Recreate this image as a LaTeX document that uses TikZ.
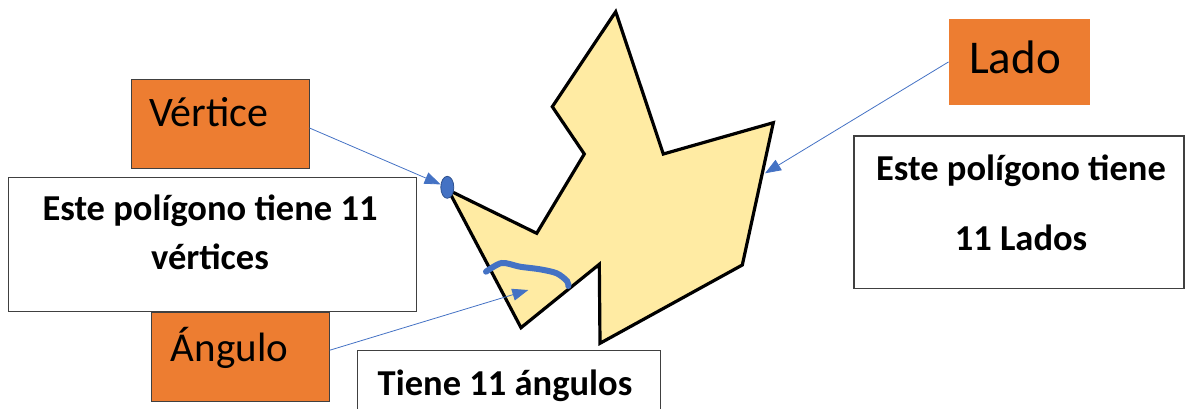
\documentclass[tikz,border=0pt]{standalone}
\usepackage{fontspec}
\setmainfont{Carlito}
\usetikzlibrary{arrows.meta,shapes.geometric}
\definecolor{naranja}{HTML}{ED7D31}
\definecolor{amarillo}{HTML}{FFEBA3}
\definecolor{azul}{HTML}{4472C4}
\definecolor{azuloscuro}{HTML}{2F528F}
\definecolor{borde}{HTML}{404040}

\begin{document}
\begin{tikzpicture}[x=1pt,y=-1pt,inner sep=0pt,minimum size=0mm,
  etiqueta/.style={draw=borde,line width=1pt,fill=naranja},
  caja/.style={draw=borde,line width=1.3pt,fill=white},
  flecha/.style={draw=azul,line width=0.8pt,-{Triangle[length=16pt,width=12pt]}},
  grande/.style={font=\fontsize{42}{48}\selectfont},
  negrita/.style={font=\fontsize{36.5}{49}\selectfont\bfseries,align=center}]

\useasboundingbox (0,0) rectangle (1185,409);

% poligono de 11 lados
\draw[fill=amarillo,line width=3.2pt] (615.7,11.7) -- (552.3,106.7) -- (584.3,154) -- (536.7,233.3) -- (448.3,190) -- (521,327.7) -- (599.3,264.3) -- (600,343.3) -- (742.3,265) -- (773.3,122.7) -- (663.3,154) -- cycle;

% vertice y angulo marcados
\node[ellipse,draw=azuloscuro,fill=azul,line width=0.8pt,minimum width=13,minimum height=22] (vtx) at (447.3,187.3) {};
\draw[azul,line width=6pt,line cap=round] plot[smooth] coordinates {(486,271.7) (501.7,263) (520,266.7) (540,269.3) (556.7,273.3) (567,281) (568.3,286)};

% Vertice
\node[etiqueta,minimum width=177.6,minimum height=89.4] (vert) at (220.2,124) {};
\node[grande,anchor=base west] (verttxt) at (149,127) {Vértice};

\node[caja,minimum width=408.4,minimum height=134] (cajavert) at (212.5,244.3) {};
\node[negrita,anchor=base] (textvert) at (210,269) {Este polígono tiene 11\\vértices};

% Angulo
\node[etiqueta,minimum width=177.6,minimum height=89] (ang) at (240.5,357.2) {};
\node[grande,font=\fontsize{41}{48}\selectfont,anchor=base west] (angtxt) at (170.7,361) {Ángulo};

\node[caja,minimum width=303.4,minimum height=69.3] (cajaang) at (509,385.4) {};
\node[negrita,anchor=base] (textang) at (505,395) {Tiene 11 ángulos};

% Lado
\node[fill=naranja,minimum width=141.3,minimum height=85.7] (lado) at (1019.4,61.9) {};
\node[grande,font=\fontsize{47}{56}\selectfont,anchor=base west] (ladotxt) at (969,74) {Lado};

\node[caja,minimum width=330,minimum height=152.7] (cajalado) at (1019,212.4) {};
\node[negrita,font=\fontsize{36.5}{70}\selectfont\bfseries,anchor=base] (textlado) at (1021,250) {Este polígono tiene\\11 Lados};

% flechas
\coordinate (lado1) at (765,173.3);
\coordinate (ang1) at (528.3,290);
\draw[flecha] ([shift={(0,4)}]vert.east) -- (vtx);
\draw[flecha] (lado.west) -- (lado1);
\draw[flecha] ([shift={(0,-7)}]ang.east) -- (ang1);

\end{tikzpicture}
\end{document}
